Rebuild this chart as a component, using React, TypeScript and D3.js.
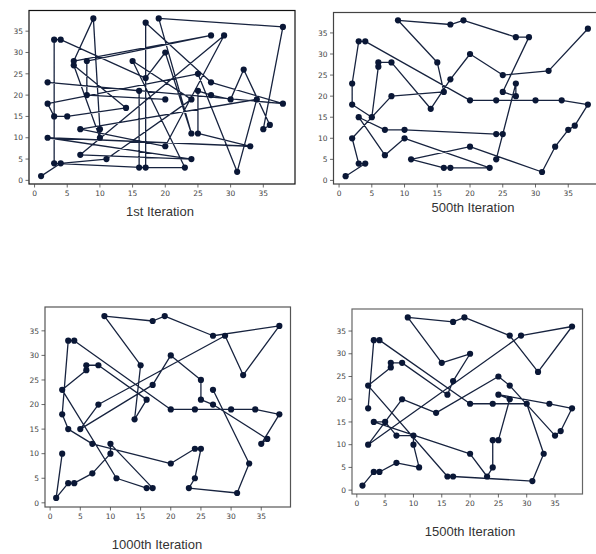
import React from "react";
import * as d3 from "d3";

// city coordinates (same cities in every panel)
const cityX = [1, 3, 4, 2, 2, 2, 3, 3, 4, 5, 6, 6, 7, 7, 8, 8, 9, 10, 10, 11, 14, 15, 16, 16, 17, 17, 17, 19, 20, 20, 20, 23, 24, 24, 24, 25, 25, 25, 27, 27, 27, 29, 30, 31, 32, 33, 34, 35, 36, 38, 38];
const cityY = [1, 4, 4, 10, 18, 23, 15, 33, 33, 15, 27, 28, 6, 12, 20, 28, 38, 10, 12, 5, 17, 28, 21, 3, 3, 24, 37, 38, 8, 19, 30, 3, 5, 11, 19, 11, 21, 25, 20, 23, 34, 34, 19, 2, 26, 8, 19, 12, 13, 18, 36];

// visiting order at each snapshot
const route1 = [0, 2, 19, 34, 21, 31, 23, 22, 5, 49, 39, 26, 24, 1, 7, 8, 25, 30, 33, 27, 50, 47, 48, 44, 42, 38, 36, 35, 45, 3, 32, 12, 41, 28, 13, 46, 43, 37, 4, 6, 9, 20, 10, 17, 18, 16, 11, 40, 15, 14, 29];
const route500 = [0, 2, 1, 3, 14, 22, 21, 16, 26, 27, 40, 41, 36, 38, 39, 32, 35, 33, 18, 13, 6, 12, 17, 31, 24, 23, 19, 28, 43, 45, 47, 48, 49, 46, 42, 34, 29, 8, 7, 5, 4, 9, 10, 11, 15, 20, 25, 30, 37, 44, 50];
const route1000 = [3, 0, 1, 2, 12, 17, 18, 24, 23, 19, 5, 10, 11, 15, 22, 20, 21, 16, 26, 27, 40, 50, 44, 41, 14, 9, 25, 30, 37, 36, 38, 48, 47, 49, 46, 42, 34, 29, 8, 7, 4, 6, 13, 28, 33, 35, 32, 31, 43, 45, 39];
const route1500 = [0, 1, 2, 12, 19, 17, 18, 13, 9, 6, 28, 31, 32, 33, 35, 38, 36, 46, 49, 48, 47, 39, 37, 20, 14, 3, 41, 50, 44, 40, 27, 26, 16, 21, 30, 25, 22, 15, 11, 10, 5, 23, 24, 43, 45, 42, 34, 29, 8, 7, 4];

const ticks = [0, 5, 10, 15, 20, 25, 30, 35];
const titles = ["1st Iteration", "500th Iteration", "1000th Iteration", "1500th Iteration"];

const panels = [
  { route: route1, left: 29, right: 295, top: 10.5, bottom: 184, tx: 160, ty: 216, frame: "#111" },
  { route: route500, left: 333.5, right: 600, top: 12.5, bottom: 184, tx: 473, ty: 212, frame: "#444" },
  { route: route1000, left: 45, right: 290.5, top: 307, bottom: 507, tx: 157, ty: 549, frame: "#555" },
  { route: route1500, left: 352, right: 582.5, top: 309, bottom: 494, tx: 470, ty: 536, frame: "#666" },
];

const Panel = ({ p, title }) => {
  const x = d3.scaleLinear().domain([-0.85, 39.85]).range([p.left, p.right]);
  const y = d3.scaleLinear().domain([-0.85, 39.85]).range([p.bottom, p.top]);
  const line = d3.line<number>()
    .x(i => x(cityX[i]))
    .y(i => y(cityY[i]));

  return (
    <g>
      <rect x={p.left} y={p.top} width={p.right - p.left} height={p.bottom - p.top}
        fill="#fff" stroke={p.frame} strokeWidth={1.2} />
      {ticks.map(t => (
        <g key={"x" + t}>
          <line x1={x(t)} x2={x(t)} y1={p.bottom} y2={p.bottom + 3.5} stroke="#444" strokeWidth={0.8} />
          <text x={x(t)} y={p.bottom + 12} fontSize={7.5} textAnchor="middle" fill="#444"
            fontFamily="DejaVu Sans, sans-serif">{t}</text>
          <line x1={p.left} x2={p.left - 3.5} y1={y(t)} y2={y(t)} stroke="#444" strokeWidth={0.8} />
          <text x={p.left - 6} y={y(t) + 2.7} fontSize={7.5} textAnchor="end" fill="#444"
            fontFamily="DejaVu Sans, sans-serif">{t}</text>
        </g>
      ))}
      <path d={line(p.route) || ""} fill="none" stroke="#17233f" strokeWidth={1.3} strokeLinejoin="round" />
      {p.route.map(i => (
        <circle key={i} cx={x(cityX[i])} cy={y(cityY[i])} r={3.1} fill="#0a1736" />
      ))}
      <text x={p.tx} y={p.ty} fontSize={13} textAnchor="middle" fill="#333"
        fontFamily="Liberation Sans, Arial, sans-serif">{title}</text>
    </g>
  );
};

export default function App() {
  return (
    <svg width={596} height={554} style={{ position: "absolute", left: 0, top: 0, background: "#fff" }}>
      <rect width={596} height={554} fill="#fff" />
      {panels.map((p, k) => <Panel key={k} p={p} title={titles[k]} />)}
    </svg>
  );
}
